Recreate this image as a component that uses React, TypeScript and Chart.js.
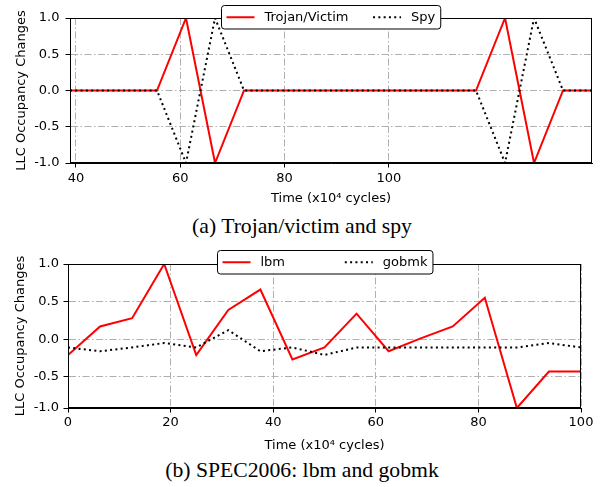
import React, { useEffect, useRef } from 'react';
import { Chart, registerables } from 'chart.js';

Chart.register(...registerables);

// ---------- Data: (a) Trojan/victim and spy ----------
const timeA = [38.85, 44.41, 49.98, 55.54, 61.1, 66.67, 72.23, 77.79, 83.35, 88.92, 94.48, 100.04, 105.61, 111.17, 116.73, 122.3, 127.86, 133.42, 138.98];
const trojanA = [0, 0, 0, 0, 1, -1, 0, 0, 0, 0, 0, 0, 0, 0, 0, 1, -1, 0, 0];
const spyA = [0, 0, 0, 0, -1, 1, 0, 0, 0, 0, 0, 0, 0, 0, 0, -1, 1, 0, 0];
const xTicksA = [40, 60, 80, 100];
const yTicksA = [-1, -0.5, 0, 0.5, 1];
const yTickLabelsA = ['-1.0', '-0.5', '0.0', '0.5', '1.0'];

// ---------- Data: (b) SPEC2006 lbm and gobmk ----------
const timeB = [0, 6.25, 12.5, 18.75, 25, 31.25, 37.5, 43.75, 50, 56.25, 62.5, 68.75, 75, 81.25, 87.5, 93.75, 100];
const lbmB = [-0.21, 0.17, 0.28, 1.0, -0.21, 0.39, 0.66, -0.27, -0.11, 0.34, -0.16, 0.01, 0.17, 0.55, -0.915, -0.43, -0.43];
const gobmkB = [-0.11, -0.16, -0.11, -0.05, -0.11, 0.12, -0.16, -0.11, -0.21, -0.11, -0.11, -0.11, -0.11, -0.11, -0.11, -0.05, -0.11];
const xTicksB = [0, 20, 40, 60, 80, 100];
const yTicksB = [-0.915, -0.5, 0, 0.5, 1];
const yTickLabelsB = ['-1.0', '-0.5', '0.0', '0.5', '1.0'];

const seriesNamesA = ['Trojan/Victim', 'Spy'];
const seriesNamesB = ['lbm', 'gobmk'];
const xTitle = 'Time (x10\u2074 cycles)';
const yTitle = 'LLC Occupancy Changes';

const FONT = '"DejaVu Sans", sans-serif';

const framePlugin = {
  id: 'frame',
  afterDatasetsDraw(chart: any) {
    const { ctx, chartArea: a } = chart;
    ctx.save();
    ctx.strokeStyle = '#000';
    ctx.lineWidth = 1;
    ctx.setLineDash([]);
    const l = Math.round(a.left) + 0.5;
    const r = Math.round(a.right) - 0.5;
    const t = Math.round(a.top) + 0.5;
    const b = Math.round(a.bottom) - 0.5;
    ctx.strokeRect(l, t, r - l, b - t);
    ctx.restore();
  },
};

const boxLegendPlugin = {
  id: 'boxLegend',
  afterDraw(chart: any, _args: any, opts: any) {
    const { ctx, chartArea: a } = chart;
    const w = opts.widthFrac * (a.right - a.left);
    const h = 23.5;
    const left = Math.round((a.left + a.right) / 2 - w / 2) + 0.5;
    const top = Math.round(a.top - opts.above) + 0.5;
    ctx.save();
    ctx.beginPath();
    ctx.roundRect(left, top, w, h, 3);
    ctx.fillStyle = '#fff';
    ctx.fill();
    ctx.lineWidth = 1;
    ctx.strokeStyle = '#000';
    ctx.setLineDash([]);
    ctx.stroke();
    ctx.font = '13px ' + FONT;
    ctx.textBaseline = 'middle';
    ctx.fillStyle = '#000';
    const cy = top + h / 2;
    const order: number[] = opts.order;
    const handle = 28;
    const gap = 10;
    order.forEach((di: number, k: number) => {
      const ds = chart.data.datasets[di];
      const tw = ctx.measureText(ds.label).width;
      let hx: number;
      if (k === 0) {
        hx = left + 5;
      } else {
        hx = left + w - 5.5 - tw - gap - handle;
      }
      ctx.save();
      ctx.beginPath();
      ctx.strokeStyle = ds.borderColor;
      ctx.lineWidth = ds.borderWidth;
      ctx.setLineDash(ds.borderDash || []);
      ctx.moveTo(hx, cy);
      ctx.lineTo(hx + handle, cy);
      ctx.stroke();
      ctx.restore();
      ctx.fillStyle = '#000';
      ctx.textAlign = 'left';
      ctx.fillText(ds.label, hx + handle + gap, cy);
    });
    ctx.restore();
  },
};

type Cfg = {
  xs: number[];
  s1: number[];
  s2: number[];
  names: string[];
  xMin: number;
  xMax: number;
  yMin: number;
  yMax: number;
  xTicks: number[];
  yTicks: number[];
  yLabels: string[];
  padTop: number;
  padRight: number;
  yAxisW: number;
  xAxisH: number;
  yTitlePad: number;
  xTitlePad: number;
  xTickPad: number;
  yTickPad: number;
  legendAbove: number;
};

function buildConfig(c: Cfg): any {
  const gridCommon = {
    color: '#b0b0b0',
    lineWidth: 1,
    drawTicks: true,
    tickLength: 4.5,
    tickColor: '#000',
    tickWidth: 1,
    tickBorderDash: [],
  };
  const borderCommon = { display: true, color: '#000', width: 1, dash: [7, 2.5, 1.5, 2.5] };
  return {
    type: 'line',
    data: {
      datasets: [
        {
          label: c.names[0],
          data: c.xs.map((x, i) => ({ x, y: c.s1[i] })),
          borderColor: '#ff0000',
          borderWidth: 2,
          pointRadius: 0,
          tension: 0,
          fill: false,
          order: 1,
        },
        {
          label: c.names[1],
          data: c.xs.map((x, i) => ({ x, y: c.s2[i] })),
          borderColor: '#000000',
          borderWidth: 2,
          borderDash: [2, 3.3],
          borderCapStyle: 'butt',
          pointRadius: 0,
          tension: 0,
          fill: false,
          order: 0,
        },
      ],
    },
    options: {
      responsive: false,
      animation: false,
      events: [],
      layout: { padding: { top: c.padTop, right: c.padRight, left: 0, bottom: 0 } },
      plugins: {
        legend: { display: false },
        tooltip: { enabled: false },
        title: { display: false },
        boxLegend: { widthFrac: 0.42, above: c.legendAbove, order: [0, 1] },
      },
      scales: {
        x: {
          type: 'linear',
          min: c.xMin,
          max: c.xMax,
          afterBuildTicks: (s: any) => {
            s.ticks = c.xTicks.map((v) => ({ value: v }));
          },
          afterFit: (s: any) => {
            s.height = c.xAxisH;
          },
          ticks: {
            autoSkip: false,
            maxRotation: 0,
            color: '#000',
            padding: c.xTickPad,
            font: { family: FONT, size: 13 },
            callback: (v: any) => String(v),
          },
          grid: gridCommon,
          border: borderCommon,
          title: {
            display: true,
            text: xTitle,
            color: '#000',
            font: { family: FONT, size: 13 },
            padding: { top: 0, bottom: c.xTitlePad },
          },
        },
        y: {
          type: 'linear',
          min: c.yMin,
          max: c.yMax,
          afterBuildTicks: (s: any) => {
            s.ticks = c.yTicks.map((v) => ({ value: v }));
          },
          afterFit: (s: any) => {
            s.width = c.yAxisW;
          },
          ticks: {
            autoSkip: false,
            color: '#000',
            padding: c.yTickPad,
            font: { family: FONT, size: 13 },
            callback: (_v: any, i: number) => c.yLabels[i],
          },
          grid: gridCommon,
          border: borderCommon,
          title: {
            display: true,
            text: yTitle,
            color: '#000',
            font: { family: FONT, size: 13 },
            padding: { top: c.yTitlePad, bottom: 0 },
          },
        },
      },
    },
    plugins: [framePlugin, boxLegendPlugin],
  };
}

const cfgA: Cfg = {
  xs: timeA,
  s1: trojanA,
  s2: spyA,
  names: seriesNamesA,
  xMin: 38.85,
  xMax: 138.98,
  yMin: -1,
  yMax: 1,
  xTicks: xTicksA,
  yTicks: yTicksA,
  yLabels: yTickLabelsA,
  padTop: 18,
  padRight: 12,
  yAxisW: 70,
  xAxisH: 47,
  yTitlePad: 13.9,
  xTitlePad: 4,
  xTickPad: 3,
  yTickPad: 6,
  legendAbove: 13,
};

const cfgB: Cfg = {
  xs: timeB,
  s1: lbmB,
  s2: gobmkB,
  names: seriesNamesB,
  xMin: 0,
  xMax: 100,
  yMin: -0.915,
  yMax: 1,
  xTicks: xTicksB,
  yTicks: yTicksB,
  yLabels: yTickLabelsB,
  padTop: 24,
  padRight: 23,
  yAxisW: 68,
  xAxisH: 47,
  yTitlePad: 12.5,
  xTitlePad: 2,
  xTickPad: 2,
  yTickPad: 4.5,
  legendAbove: 14,
};

function ChartCanvas({ cfg, top, height }: { cfg: Cfg; top: number; height: number }) {
  const ref = useRef<HTMLCanvasElement | null>(null);
  useEffect(() => {
    if (!ref.current) return;
    const chart = new Chart(ref.current, buildConfig(cfg));
    return () => chart.destroy();
  }, [cfg]);
  return (
    <canvas
      ref={ref}
      width={604}
      height={height}
      style={{ position: 'absolute', left: 0, top, width: 604, height }}
    />
  );
}

const captionStyle: React.CSSProperties = {
  position: 'absolute',
  left: 0,
  width: 604,
  textAlign: 'center',
  fontFamily: '"Liberation Serif", "Times New Roman", serif',
  fontSize: '21.7px',
  lineHeight: '1',
  color: '#000',
  whiteSpace: 'nowrap',
};

export default function App() {
  return (
    <div style={{ position: 'absolute', left: 0, top: 0, width: 604, height: 487, background: '#fff' }}>
      <ChartCanvas cfg={cfgA} top={0} height={210} />
      <div style={{ ...captionStyle, top: 216 }}>(a) Trojan/victim and spy</div>
      <ChartCanvas cfg={cfgB} top={240} height={215} />
      <div style={{ ...captionStyle, top: 459.5 }}>(b) SPEC2006: lbm and gobmk</div>
    </div>
  );
}
